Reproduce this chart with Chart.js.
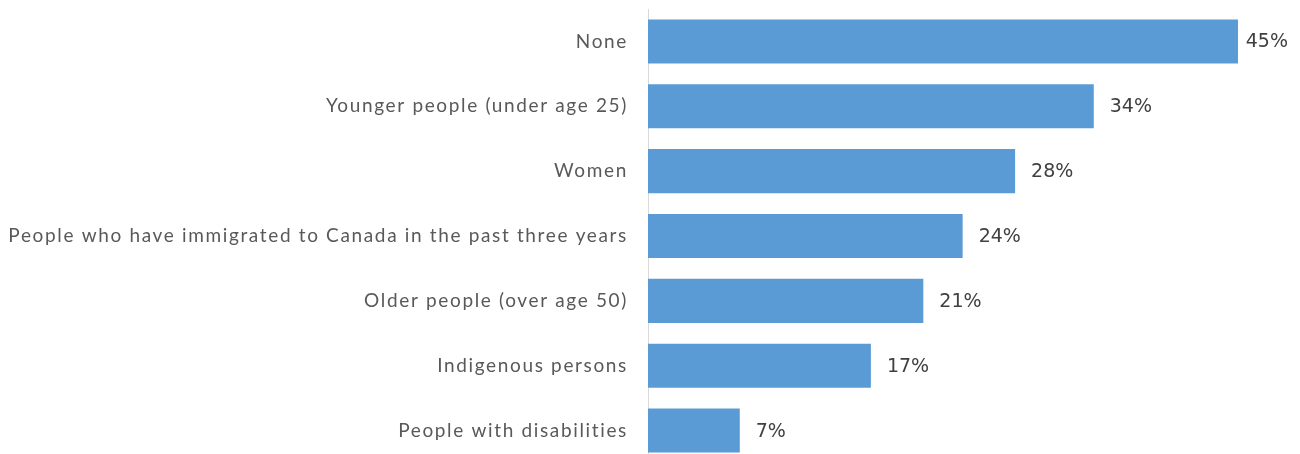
<!DOCTYPE html>
<html lang="en">
<head>
    <meta charset="UTF-8">
    <title>Groups</title>
    <script src="https://cdn.jsdelivr.net/npm/chart.js"></script>
    <style>
        html, body { margin: 0; padding: 0; background: #fff; overflow: hidden; }
        canvas { display: block; }
    </style>
</head>
<body>
    <canvas id="groupsChart" width="1300" height="463"></canvas>

    <script>
        // Share of respondents per group
        const groups = [
            'None',
            'Younger people (under age 25)',
            'Women',
            'People who have immigrated to Canada in the past three years',
            'Older people (over age 50)',
            'Indigenous persons',
            'People with disabilities'
        ];
        const shares = [45, 34, 28, 24, 21, 17, 7];

        // Slightly spaced-out lettering for the category names
        const spacedTicks = {
            id: 'spacedTicks',
            beforeDraw(chart) { chart.ctx.letterSpacing = '1.65px'; },
            beforeDatasetsDraw(chart) { chart.ctx.letterSpacing = '0px'; }
        };

        // Writes "NN%" just past the end of each bar
        const valueLabels = {
            id: 'valueLabels',
            afterDatasetsDraw(chart) {
                const ctx = chart.ctx;
                const meta = chart.getDatasetMeta(0);
                ctx.save();
                ctx.font = '19px "DejaVu Sans"';
                ctx.fillStyle = '#404040';
                ctx.textBaseline = 'middle';
                ctx.textAlign = 'left';
                meta.data.forEach((bar, i) => {
                    const text = shares[i] + '%';
                    const w = ctx.measureText(text).width;
                    let x = bar.x + 16;
                    // keep the longest bar's label inside the canvas
                    if (x + w > chart.width - 12) x = chart.width - 12 - w;
                    ctx.fillText(text, x, bar.y + 1);
                });
                ctx.restore();
            }
        };

        const ctx = document.getElementById('groupsChart').getContext('2d');
        new Chart(ctx, {
            type: 'bar',
            data: {
                labels: groups,
                datasets: [{
                    data: shares,
                    backgroundColor: '#5B9BD5',
                    borderWidth: 0,
                    barPercentage: 0.68,
                    categoryPercentage: 1
                }]
            },
            options: {
                indexAxis: 'y',
                responsive: false,
                animation: false,
                layout: { padding: { top: 9, right: 0, bottom: 0, left: 0 } },
                plugins: {
                    legend: { display: false },
                    tooltip: { enabled: false }
                },
                scales: {
                    x: {
                        display: false,
                        min: 0,
                        max: 49.73
                    },
                    y: {
                        grid: { display: false },
                        border: { display: true, color: '#D9D9D9', width: 1 },
                        ticks: {
                            color: '#595959',
                            padding: 12,
                            font: { family: 'Lato', size: 19 }
                        },
                        afterFit(scale) {
                            scale.width = 648;
                            scale.paddingTop = 0;
                            scale.paddingBottom = 0;
                        }
                    }
                }
            },
            plugins: [spacedTicks, valueLabels]
        });
    </script>
</body>
</html>
